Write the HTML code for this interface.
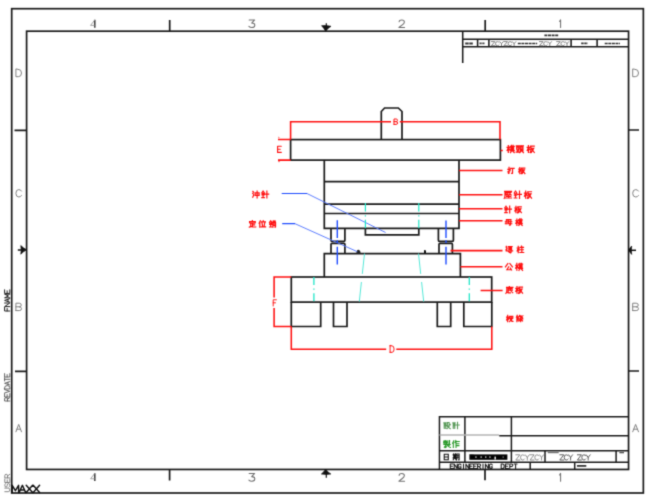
<!DOCTYPE html>
<html><head><meta charset="utf-8"><style>
html,body{margin:0;padding:0;background:#fff;width:653px;height:499px;overflow:hidden}
svg{display:block;font-family:"Liberation Sans",sans-serif}
</style></head><body>
<svg width="653" height="499" viewBox="0 0 653 499">
<defs><filter id="bl" x="0" y="0" width="653" height="499" filterUnits="userSpaceOnUse" color-interpolation-filters="sRGB"><feConvolveMatrix order="3" kernelMatrix="0.0225 0.105 0.0225 0.105 0.49 0.105 0.0225 0.105 0.0225" edgeMode="duplicate"/></filter><symbol id="g0" viewBox="0 0 8 8" overflow="visible"><path d="M0.3,2.3H2.9 M1.6,0.3V7.7 M1.6,2.6L0.3,5.6 M1.6,2.6L2.9,4.6 M3.6,1.2H7.8 M4.9,0.2V2 M6.6,0.2V2 M4.3,2.6H7.2V4.8H4.3Z M4.3,3.7H7.2 M3.6,5.7H7.8 M5.7,4.8L3.9,7.8 M5.7,5.7L7.8,7.8"/></symbol>
<symbol id="g1" viewBox="0 0 8 8" overflow="visible"><path d="M0.3,0.8H3.2 M0.7,2H3V4H0.7Z M1.1,5L1.5,6.4 M2.6,5L2.2,6.4 M0.2,7.3H3.3 M3.9,0.6H7.8 M5.8,0.6L5.4,1.7 M4.4,1.8H7.3V6H4.4Z M4.4,3.2H7.3 M4.4,4.6H7.3 M5.1,6.4L4,7.8 M6.6,6.4L7.8,7.8"/></symbol>
<symbol id="g2" viewBox="0 0 8 8" overflow="visible"><path d="M0.3,2.3H2.9 M1.6,0.3V7.7 M1.6,2.6L0.3,5.6 M1.6,2.6L2.9,4.6 M3.8,0.9H7.7 M4.2,0.9V4.2Q4.2,6.4 3.4,7.8 M4.8,3.2H7.2L4.6,7.6 M5.2,4.2L7.8,7.7"/></symbol>
<symbol id="g3" viewBox="0 0 8 8" overflow="visible"><path d="M0.2,2.6H3 M1.6,0.2V7.1Q1.6,7.8 0.9,7.5 M0.2,5.6L3,4.3 M3.6,1.3H7.8 M5.9,1.3V7.2Q5.9,7.9 4.9,7.5"/></symbol>
<symbol id="g4" viewBox="0 0 8 8" overflow="visible"><path d="M0.6,0.6H7.8 M0.9,0.6V5Q0.9,7 0.1,7.8 M1.9,1.6H4V3.3H1.9Z M2.2,4.1H4 M5,1.6H7.3 M6.1,1V3.5L5,4.5 M6.1,3L7.4,4.3 M2.6,5.7H7 M4.8,4.8V7.5 M1.6,7.5H7.8"/></symbol>
<symbol id="g5" viewBox="0 0 8 8" overflow="visible"><path d="M1.6,0.3L0.2,2.2 M1.6,0.3L3,2.2 M0.6,3H2.6 M0.4,4.4H2.8 M1.6,3V7.2 M0.2,7.5H3 M3.7,3.6H7.8 M5.8,0.2V7.8"/></symbol>
<symbol id="g6" viewBox="0 0 8 8" overflow="visible"><path d="M1.5,0.9H6.8L6.3,7Q6.2,7.8 5.2,7.4 M1.5,0.9L0.9,5.8 M0.2,3.5H7.8 M0.2,5.8H7.8 M3.3,1.8L4.5,2.8 M3.3,4.3L4.5,5.2"/></symbol>
<symbol id="g7" viewBox="0 0 8 8" overflow="visible"><path d="M0.5,0.4L1.3,1.3 M0.4,2L1.2,2.8 M0.2,4.4Q1.5,4.2 1.3,3 M3,0.6H7.2 M3.5,1.4H6.6V4H3.5Z M3.5,2.3H6.6 M3.5,3.2H6.6 M0.5,5.5H7.8 M6,4.6V7.5Q6,8 5,7.6 M3,6.3L3.8,7"/></symbol>
<symbol id="g8" viewBox="0 0 8 8" overflow="visible"><path d="M0.3,2.3H2.9 M1.6,0.3V7.7 M1.6,2.6L0.3,5.6 M1.6,2.6L2.9,4.6 M5.3,0.2L5.9,1.1 M3.8,1.6H7.6 M5.7,1.6V7.3 M4.1,4.3H7.4 M3.5,7.4H7.8"/></symbol>
<symbol id="g9" viewBox="0 0 8 8" overflow="visible"><path d="M2.8,0.5L0.2,4 M5,0.5L7.8,4 M3.8,4L1.8,7.2H6.6 M5.5,5.5L6.8,7.5"/></symbol>
<symbol id="g10" viewBox="0 0 8 8" overflow="visible"><path d="M3.9,0.2V1 M0.8,1.1H7.8 M1.1,1.1V5Q1.1,7 0.1,7.8 M2.6,2.5H7 M2.6,2.5V6.2L2.1,6.7 M2.6,4.2H7.2 M4.8,2.5Q5.2,6 7.6,7.1 M2.6,7.3H5"/></symbol>
<symbol id="g11" viewBox="0 0 8 8" overflow="visible"><path d="M0.3,2.3H2.9 M1.6,0.3V7.7 M1.6,2.6L0.3,5.6 M1.6,2.6L2.9,4.6 M4,1.5V2.8 M4,1.5H7.7V2.8 M5.8,1.5V3 M4,3.8H7.5 M5.3,3.8Q5.3,6.5 3.8,7.7 M6.3,3.8V7Q6.3,7.6 7.8,7.4"/></symbol>
<symbol id="g12" viewBox="0 0 8 8" overflow="visible"><path d="M1.2,0.2L0.2,2.5 M0.8,1.5V7.8 M2.2,2V6 M4.2,0.2L3.2,2 M3.8,1H7.3L5.5,2.5 M4.3,1.5L7.5,3 M3,4.5H7.8 M5.3,3.2V7.8 M5.3,4.5L3.2,7 M5.3,4.5L7.5,6.8"/></symbol>
<symbol id="g13" viewBox="0 0 8 8" overflow="visible"><path d="M0.5,0.6L1.3,1.5 M0.3,2.8L1.1,3.6 M0.3,7L1.3,4.8 M3,2.2H7.4V5H3Z M5.2,0.2V7.8"/></symbol>
<symbol id="g14" viewBox="0 0 8 8" overflow="visible"><path d="M3.9,0V0.9 M0.6,2.4V1.1H7.3V2.4 M1.5,3H6.6 M4,3V7.2 M4.3,5H6.5 M2,4.5V6.5Q1.5,7.5 0.3,7.7 M2,6.8Q4,7.6 7.8,7.5"/></symbol>
<symbol id="g15" viewBox="0 0 8 8" overflow="visible"><path d="M1.6,0.3L0.2,3.2 M1,2V7.8 M5,0.2L5.5,1.2 M2.8,1.6H7.6 M3.6,2.8L4.2,6 M6.8,2.8L6.2,6 M2.6,7.3H7.8"/></symbol>
<symbol id="g16" viewBox="0 0 8 8" overflow="visible"><path d="M1.6,0.3L0.2,2.2 M1.6,0.3L3,2.2 M0.6,3H2.6 M0.4,4.4H2.8 M1.6,3V7.2 M0.2,7.5H3 M5.6,0.2V1.8 M4.3,0.6L4.8,1.5 M7,0.6L6.5,1.5 M4.2,2.3H7.3V7.5Q7.3,7.9 6.5,7.6 M4.2,2.3V7.8 M4.2,4H7.3 M4.2,5.6H7.3"/></symbol>
<symbol id="g17" viewBox="0 0 8 8" overflow="visible"><path d="M0.3,1H3 M0.7,2.3H2.6 M0.7,3.5H2.6 M0.7,4.8H2.6V7.4H0.7Z M4.5,0.5V2.5Q4.5,3.5 3.6,3.8 M4.5,0.5H6.5V2.8H7.8 M3.8,4.5H7L4,7.8 M4.5,5.5L7.8,7.8"/></symbol>
<symbol id="g18" viewBox="0 0 8 8" overflow="visible"><path d="M0.3,1H3 M0.7,2.3H2.6 M0.7,3.5H2.6 M0.7,4.8H2.6V7.4H0.7Z M3.7,3.6H7.8 M5.8,0.2V7.8"/></symbol>
<symbol id="g19" viewBox="0 0 8 8" overflow="visible"><path d="M0.5,0.8H3.5 M2,0.2V3.8 M0.2,2H3.8 M0.6,2.8V3.5 M3.4,2.8V3.5 M5,0.5V2.8 M6.8,0.2V3.5Q6.8,4 6.2,3.8 M3.8,3.8V4.5 M0.5,4.6H7.5 M3.5,4.6L1,7.5 M2.2,6.3V7.8L3.5,7 M4.5,5.3Q5.5,7 7.8,7.8 M6.8,5.2L5.5,6.2"/></symbol>
<symbol id="g20" viewBox="0 0 8 8" overflow="visible"><path d="M1.6,0.3L0.2,3.2 M1,2V7.8 M3.8,0.2L2.8,2.5 M3.5,1.3H7.6 M4,1.3V7.8 M4,3.8H7.2 M4,5.8H7.2"/></symbol>
<symbol id="g21" viewBox="0 0 8 8" overflow="visible"><path d="M1.5,0.8H6.5V7.5H1.5Z M1.5,4.1H6.5"/></symbol>
<symbol id="g22" viewBox="0 0 8 8" overflow="visible"><path d="M0.2,1.5H4 M1,0.2V5.2 M3.2,0.2V5.2 M1,2.7H3.2 M1,3.9H3.2 M0.2,5.2H4 M1.3,6L0.3,7.5 M2.9,6L3.9,7.5 M4.8,0.5H7.5V7.5Q7.5,7.9 6.8,7.6 M4.8,0.5V5Q4.8,7 4.2,7.8 M4.8,2.8H7.5 M4.8,5H7.5"/></symbol></defs>
<g filter="url(#bl)">
<rect width="653" height="499" fill="#fff"/>
<g stroke="#1a1a1a" stroke-width="1.7" fill="none">
<rect x="11.7" y="8.7" width="631.65" height="484.3"/>
<rect x="26.6" y="31.2" width="601.95" height="438.25"/>
<path d="M169.7,20V31 M485.2,20V31 M169.6,469.4V480.6 M485,469.4V480.2 M14.5,130.4H26.5 M15,371.3H26.5 M628.4,130H639 M628.4,371H639"/>
</g>
<g fill="#111" stroke="#111" stroke-width="1.2">
<path d="M321.6,25.7Q323.8,28 325.7,31.2Q327.8,28 331,26.3Q326.5,25.2 321.6,25.7Z" stroke-width="0.7"/><path d="M326.3,23.2V27" fill="none"/>
<path d="M321.4,474Q323.8,472 325.7,469.2Q327.6,472.2 330.8,474Q326.5,474.9 321.4,474Z" stroke-width="0.7"/><path d="M326.3,473V477.8" fill="none"/>
<path d="M20.8,245.6Q23.2,248 26.6,249.8Q23.2,251.6 20.8,254.2Q21.6,250 20.8,245.6Z" stroke-width="0.7"/><path d="M17.8,250H22" fill="none" stroke-width="1.5"/>
<path d="M631.7,246Q629.8,248.4 628.2,250Q629.8,252 631.7,254.4Q631,250.2 631.7,246Z" stroke-width="0.7"/><path d="M630.5,250.3H636" fill="none" stroke-width="1.5"/>
</g>
<path d="M94.8,19.8V27.700000000000003" stroke="#3a3a3a" stroke-width="1.5" fill="none"/>
<path d="M94.6,20.1L90.6,25.4H94.6" stroke="#9a9a9a" stroke-width="0.9" fill="none"/>
<path d="M94.8,473.2V481.09999999999997" stroke="#3a3a3a" stroke-width="1.5" fill="none"/>
<path d="M94.6,473.5L90.6,478.8H94.6" stroke="#9a9a9a" stroke-width="0.9" fill="none"/>
<path d="M249.14,19.90H254.66L251.66,23.03Q254.90,23.03 254.90,25.22Q254.90,27.50 251.90,27.50Q249.98,27.50 248.90,26.36" stroke="#707070" stroke-width="1.05" fill="none" stroke-linecap="round" stroke-linejoin="round" />
<path d="M249.14,473.40H254.66L251.66,476.62Q254.90,476.62 254.90,478.86Q254.90,481.20 251.90,481.20Q249.98,481.20 248.90,480.03" stroke="#707070" stroke-width="1.05" fill="none" stroke-linecap="round" stroke-linejoin="round" />
<path d="M399.13,21.80Q399.36,19.90 401.75,19.90Q404.37,19.90 404.37,21.89Q404.37,23.32 402.32,24.84L398.90,27.50H404.60" stroke="#707070" stroke-width="1.05" fill="none" stroke-linecap="round" stroke-linejoin="round" />
<path d="M399.13,475.35Q399.36,473.40 401.75,473.40Q404.37,473.40 404.37,475.45Q404.37,476.91 402.32,478.47L398.90,481.20H404.60" stroke="#707070" stroke-width="1.05" fill="none" stroke-linecap="round" stroke-linejoin="round" />
<path d="M559.57,21.42L560.59,19.90V27.50" stroke="#707070" stroke-width="1.05" fill="none" stroke-linecap="round" stroke-linejoin="round" />
<path d="M559.57,474.96L560.59,473.40V481.20" stroke="#707070" stroke-width="1.05" fill="none" stroke-linecap="round" stroke-linejoin="round" />
<path d="M15.90,69.30V76.70H18.36Q21.50,76.70 21.50,73.00Q21.50,69.30 18.36,69.30Z" stroke="#808080" stroke-width="1.0" fill="none" stroke-linecap="round" stroke-linejoin="round" />
<path d="M632.70,69.30V76.70H635.25Q638.50,76.70 638.50,73.00Q638.50,69.30 635.25,69.30Z" stroke="#808080" stroke-width="1.0" fill="none" stroke-linecap="round" stroke-linejoin="round" />
<path d="M21.50,191.08Q20.60,189.60 18.81,189.60Q15.90,189.60 15.90,193.30Q15.90,197.00 18.81,197.00Q20.60,197.00 21.50,195.52" stroke="#808080" stroke-width="1.0" fill="none" stroke-linecap="round" stroke-linejoin="round" />
<path d="M638.50,191.08Q637.57,189.60 635.72,189.60Q632.70,189.60 632.70,193.30Q632.70,197.00 635.72,197.00Q637.57,197.00 638.50,195.52" stroke="#808080" stroke-width="1.0" fill="none" stroke-linecap="round" stroke-linejoin="round" />
<path d="M15.90,310.60V303.20H19.26Q21.28,303.20 21.28,305.05Q21.28,306.81 19.26,306.81H15.90M19.26,306.81Q21.50,306.81 21.50,308.66Q21.50,310.60 19.26,310.60H15.90" stroke="#808080" stroke-width="1.0" fill="none" stroke-linecap="round" stroke-linejoin="round" />
<path d="M632.70,310.60V303.20H636.18Q638.27,303.20 638.27,305.05Q638.27,306.81 636.18,306.81H632.70M636.18,306.81Q638.50,306.81 638.50,308.66Q638.50,310.60 636.18,310.60H632.70" stroke="#808080" stroke-width="1.0" fill="none" stroke-linecap="round" stroke-linejoin="round" />
<path d="M15.90,431.80L18.70,424.40L21.50,431.80M16.91,429.21H20.49" stroke="#808080" stroke-width="1.0" fill="none" stroke-linecap="round" stroke-linejoin="round" />
<path d="M632.70,431.80L635.60,424.40L638.50,431.80M633.74,429.21H637.46" stroke="#808080" stroke-width="1.0" fill="none" stroke-linecap="round" stroke-linejoin="round" />
<g transform="translate(4.6,311) rotate(-90)">
<path d="M3.60,0.00H0.00V5.20M0.00,2.54H2.59 M4.40,5.20V0.00L8.00,5.20V0.00 M8.80,5.20L10.60,0.00L12.40,5.20M9.45,3.38H11.75 M13.20,5.20V0.00L15.00,3.90L16.80,0.00V5.20 M21.20,0.00H17.60V5.20H21.20M17.60,2.54H20.19" stroke="#222" stroke-width="1.0" fill="none" stroke-linecap="round" stroke-linejoin="round" />
</g>
<g transform="translate(4.6,401) rotate(-90)">
<path d="M0.00,5.20V0.00H2.04Q3.40,0.00 3.40,1.43Q3.40,2.86 2.04,2.86H0.00M1.77,2.86L3.40,5.20 M7.40,0.00H4.00V5.20H7.40M4.00,2.54H6.45 M8.00,0.00L9.70,5.20L11.40,0.00 M12.00,0.00V5.20H13.50Q15.40,5.20 15.40,2.60Q15.40,0.00 13.50,0.00Z M16.00,5.20L17.70,0.00L19.40,5.20M16.61,3.38H18.79 M20.00,0.00H23.40M21.70,0.00V5.20 M27.40,0.00H24.00V5.20H27.40M24.00,2.54H26.45" stroke="#555" stroke-width="0.9" fill="none" stroke-linecap="round" stroke-linejoin="round" />
</g>
<g transform="translate(4.8,491.7) rotate(-90)">
<path d="M0.00,0.00V3.44Q0.00,5.00 1.80,5.00Q3.60,5.00 3.60,3.44V0.00 M8.20,0.75Q7.62,0.00 6.40,0.00Q4.60,0.00 4.60,1.25Q4.60,2.44 6.40,2.44Q8.20,2.44 8.20,3.75Q8.20,5.00 6.40,5.00Q5.18,5.00 4.60,4.25 M12.80,0.00H9.20V5.00H12.80M9.20,2.44H11.79 M13.80,5.00V0.00H15.96Q17.40,0.00 17.40,1.38Q17.40,2.75 15.96,2.75H13.80M15.67,2.75L17.40,5.00" stroke="#777" stroke-width="0.9" fill="none" stroke-linecap="round" stroke-linejoin="round" />
</g>
<path d="M12.20,492.40V485.30L15.40,490.62L18.60,485.30V492.40 M19.20,492.40L22.40,485.30L25.60,492.40M20.35,489.92H24.45 M26.20,485.30L32.60,492.40M32.60,485.30L26.20,492.40 M33.20,485.30L39.60,492.40M39.60,485.30L33.20,492.40" stroke="#111" stroke-width="1.45" fill="none" stroke-linecap="round" stroke-linejoin="round" />
<g stroke="#1a1a1a" stroke-width="1.55" fill="none">
<path d="M462.7,63V31.2 M462.7,39.3H628.55 M462.7,46.8H628.55 M477.6,39.3V46.8 M488.9,39.3V46.8 M571.1,39.3V46.8 M597.1,39.3V46.8"/>
</g>
<path d="M544.4,35.3H558.5" stroke="#333" stroke-width="1.7" stroke-dasharray="3,0.6" fill="none"/>
<path d="M465.2,43.5H472.9" stroke="#333" stroke-width="1.8" stroke-dasharray="3.5,0.6" fill="none"/>
<path d="M479.5,43.4H484.5" stroke="#444" stroke-width="1.7" stroke-dasharray="2.2,0.6" fill="none"/>
<path d="M517.8,43.5H537.2" stroke="#333" stroke-width="1.7" stroke-dasharray="3,0.6" fill="none"/>
<path d="M581.2,43.4H587.8" stroke="#333" stroke-width="1.7" stroke-dasharray="2.5,0.6" fill="none"/>
<path d="M604.7,43.5H620" stroke="#333" stroke-width="1.7" stroke-dasharray="3,0.6" fill="none"/>
<path d="M491.30,41.60H494.90L491.30,45.70H494.90 M499.10,42.42Q498.52,41.60 497.37,41.60Q495.50,41.60 495.50,43.65Q495.50,45.70 497.37,45.70Q498.52,45.70 499.10,44.88 M499.70,41.60L501.50,43.65L503.30,41.60M501.50,43.65V45.70 M503.90,41.60H507.50L503.90,45.70H507.50 M511.70,42.42Q511.12,41.60 509.97,41.60Q508.10,41.60 508.10,43.65Q508.10,45.70 509.97,45.70Q511.12,45.70 511.70,44.88 M512.30,41.60L514.10,43.65L515.90,41.60M514.10,43.65V45.70" stroke="#777" stroke-width="0.9" fill="none" stroke-linecap="round" stroke-linejoin="round" />
<path d="M539.40,41.60H543.00L539.40,45.70H543.00 M547.30,42.42Q546.72,41.60 545.57,41.60Q543.70,41.60 543.70,43.65Q543.70,45.70 545.57,45.70Q546.72,45.70 547.30,44.88 M548.00,41.60L549.80,43.65L551.60,41.60M549.80,43.65V45.70 M556.60,41.60H560.20L556.60,45.70H560.20 M564.50,42.42Q563.92,41.60 562.77,41.60Q560.90,41.60 560.90,43.65Q560.90,45.70 562.77,45.70Q563.92,45.70 564.50,44.88 M565.20,41.60L567.00,43.65L568.80,41.60M567.00,43.65V45.70" stroke="#777" stroke-width="0.9" fill="none" stroke-linecap="round" stroke-linejoin="round" />
<g stroke="#1a1a1a" stroke-width="1.5" fill="none">
<path d="M439.45,469.45V416.8 H628.55 M499.2,435.7H628.55 M439.45,450.7H628.55 M439.45,462.15H628.55 M464.9,416.8V462.15 M511.4,416.8V462.15 M545,450.7V462.15 M616.1,450.7V462.15 M530.2,462.15V469.45 M574.7,462.15V469.45"/>
</g>
<path d="M439.45,435H499.2" stroke="#b4b4b4" stroke-width="1.7"/>
<g stroke="#5a9a5a" stroke-width="1.27" fill="none" stroke-linecap="square"><use href="#g17" x="443.00" y="422.00" width="8.00" height="6.80"/><use href="#g18" x="452.00" y="422.00" width="8.00" height="6.80"/></g>
<g stroke="#2a9a2a" stroke-width="1.20" fill="none" stroke-linecap="square"><use href="#g19" x="443.00" y="440.40" width="8.00" height="7.20"/><use href="#g20" x="452.00" y="440.40" width="8.00" height="7.20"/></g>
<g stroke="#111" stroke-width="1.31" fill="none" stroke-linecap="square"><use href="#g21" x="443.00" y="453.60" width="6.50" height="6.60"/><use href="#g22" x="452.50" y="453.60" width="7.50" height="6.60"/></g>
<rect x="469.4" y="454.4" width="38.00" height="5.40" fill="#000"/>
<rect x="475.3" y="456.3" width="1.3" height="1.6" fill="#bbb"/>
<rect x="480.5" y="456.3" width="1.3" height="1.6" fill="#bbb"/>
<rect x="485.1" y="456.3" width="1.3" height="1.6" fill="#bbb"/>
<rect x="489.3" y="456.3" width="1.3" height="1.6" fill="#bbb"/>
<rect x="494.4" y="456.6" width="1.6" height="2.9" fill="#ddd"/>
<rect x="502.6" y="456.4" width="1.1" height="1.4" fill="#999"/>
<rect x="469.6" y="454.4" width="4" height="0.6" fill="#333"/>
<path d="M515.80,454.80H519.80L515.80,460.00H519.80 M524.55,455.84Q523.91,454.80 522.63,454.80Q520.55,454.80 520.55,457.40Q520.55,460.00 522.63,460.00Q523.91,460.00 524.55,458.96 M525.30,454.80L527.30,457.40L529.30,454.80M527.30,457.40V460.00 M530.05,454.80H534.05L530.05,460.00H534.05 M538.80,455.84Q538.16,454.80 536.88,454.80Q534.80,454.80 534.80,457.40Q534.80,460.00 536.88,460.00Q538.16,460.00 538.80,458.96 M539.55,454.80L541.55,457.40L543.55,454.80M541.55,457.40V460.00" stroke="#888" stroke-width="0.95" fill="none" stroke-linecap="round" stroke-linejoin="round" />
<path d="M559.80,454.80H563.80L559.80,460.00H563.80 M568.20,455.84Q567.56,454.80 566.28,454.80Q564.20,454.80 564.20,457.40Q564.20,460.00 566.28,460.00Q567.56,460.00 568.20,458.96 M568.60,454.80L570.60,457.40L572.60,454.80M570.60,457.40V460.00 M577.40,454.80H581.40L577.40,460.00H581.40 M585.80,455.84Q585.16,454.80 583.88,454.80Q581.80,454.80 581.80,457.40Q581.80,460.00 583.88,460.00Q585.16,460.00 585.80,458.96 M586.20,454.80L588.20,457.40L590.20,454.80M588.20,457.40V460.00" stroke="#555" stroke-width="0.95" fill="none" stroke-linecap="round" stroke-linejoin="round" />
<rect x="547.7" y="452.1" width="11.00" height="1.10" fill="#666"/>
<rect x="619.4" y="452.0" width="4.60" height="1.30" fill="#555"/>
<rect x="577" y="465.0" width="9.30" height="1.80" fill="#333"/>
<path d="M453.30,464.00H450.30V468.60H453.30M450.30,466.24H452.46 M454.20,468.60V464.00L457.20,468.60V464.00 M461.10,464.92Q460.62,464.00 459.66,464.00Q458.10,464.00 458.10,466.30Q458.10,468.60 459.66,468.60Q461.10,468.60 461.10,466.88H459.78 M463.50,464.00V468.60 M465.90,468.60V464.00L468.90,468.60V464.00 M472.80,464.00H469.80V468.60H472.80M469.80,466.24H471.96 M476.70,464.00H473.70V468.60H476.70M473.70,466.24H475.86 M477.60,468.60V464.00H479.40Q480.60,464.00 480.60,465.26Q480.60,466.53 479.40,466.53H477.60M479.16,466.53L480.60,468.60 M483.00,464.00V468.60 M485.40,468.60V464.00L488.40,468.60V464.00 M492.30,464.92Q491.82,464.00 490.86,464.00Q489.30,464.00 489.30,466.30Q489.30,468.60 490.86,468.60Q492.30,468.60 492.30,466.88H490.98" stroke="#222" stroke-width="1.1" fill="none" stroke-linecap="round" stroke-linejoin="round" />
<path d="M501.20,464.00V468.60H502.52Q504.20,468.60 504.20,466.30Q504.20,464.00 502.52,464.00Z M508.50,464.00H505.50V468.60H508.50M505.50,466.24H507.66 M509.80,468.60V464.00H511.60Q512.80,464.00 512.80,465.26Q512.80,466.53 511.60,466.53H509.80 M514.10,464.00H517.10M515.60,464.00V468.60" stroke="#222" stroke-width="1.1" fill="none" stroke-linecap="round" stroke-linejoin="round" />
<g stroke="#1a1a1a" stroke-width="1.7" fill="none">
<path d="M381.3,139.6V111.5L384.6,108H398.3L402,111.5V139.6"/>
<rect x="290.6" y="139.6" width="209.8" height="20.5"/>
<path d="M324.3,160.1V228.4H459V160.1"/>
<path d="M324.3,181.6H459 M324.3,204.2H459 M324.3,213.5H459"/>
<path d="M365.4,228.4V234.9H418.8V228.4"/>
<path d="M331,228.4V240.3Q331,241.3 332,241.3H343.9Q344.9,241.3 344.9,240.3V228.4"/>
<path d="M438.4,228.4V240.3Q438.4,241.3 439.4,241.3H452.4Q453.4,241.3 453.4,240.3V228.4"/>
<path d="M331,253.6V244.3Q331,243.3 332,243.3H343.9Q344.9,243.3 344.9,244.3V253.6"/>
<path d="M439,253.6V244.3Q439,243.3 440,243.3H451.4Q452.4,243.3 452.4,244.3V253.6"/>
<path d="M324.3,277V253.6H460.4V277"/>
<rect x="291.3" y="277" width="200.4" height="25.1"/>
<path d="M291.3,302.1V326.5H320.7V302.1 M333.5,302.1V326.5H347V302.1 M437.3,302.1V326.5H450.7V302.1 M463.8,302.1V326.5H491.8V302.1"/>
</g>
<path d="M356.3,253.5Q356.6,249.5 358.5,249.7Q360.6,250.1 360.6,253.5Z" fill="#222"/>
<path d="M424,253.4V250.3Q425.2,249.5 426,250.7V253.4Z" fill="#111"/>
<g stroke="#ff1010" stroke-width="1.55" fill="none">
<path d="M290.6,139.6V121.8H391 M399.8,121.8H500V139.6"/>
<path d="M278,139.4H290.6 M278,160.1H290.6"/>
<path d="M291.3,277H274.1V297.4 M274.1,307.9V326.5H291.3 M291.3,326.5V349.2H386.2 M396.3,349.2H491.8V326.5"/>
<path d="M500.6,150.4H502.8 M459,170.5H502.5 M459,194.7H502.5 M459,208.7H502.5 M459,220.7H502.5 M450.5,250.6H502.5 M460.4,266.8H502.5 M480.6,290.4H502.6"/>
</g>
<g fill="#ff1010"><path d="M278.3,136.6L279.5,137.6L278.8,138.6Z"/><path d="M278,160.3L280,160.4L279,162.4Z"/></g>
<path d="M394.00,124.40V119.00H396.16Q397.46,119.00 397.46,120.35Q397.46,121.63 396.16,121.63H394.00M396.16,121.63Q397.60,121.63 397.60,122.98Q397.60,124.40 396.16,124.40H394.00" stroke="#ff1010" stroke-width="1.0" fill="none" stroke-linecap="round" stroke-linejoin="round" />
<path d="M281.30,146.30H277.60V152.40H281.30M277.60,149.27H280.26" stroke="#ff1010" stroke-width="1.1" fill="none" stroke-linecap="round" stroke-linejoin="round" />
<path d="M276.40,299.80H273.20V306.00M273.20,302.82H275.50" stroke="#ff1010" stroke-width="0.95" fill="none" stroke-linecap="round" stroke-linejoin="round" />
<path d="M390.10,345.70V352.40H391.86Q394.10,352.40 394.10,349.05Q394.10,345.70 391.86,345.70Z" stroke="#ff1010" stroke-width="0.95" fill="none" stroke-linecap="round" stroke-linejoin="round" />
<path d="M389.4,345.8H391.5 M389.4,352.3H391.5" stroke="#ff1a1a" stroke-width="0.9"/>
<g stroke="#ff1010" stroke-width="1.26" fill="none" stroke-linecap="square"><use href="#g0" x="506.40" y="145.20" width="8.40" height="7.60"/><use href="#g1" x="515.60" y="145.20" width="8.40" height="7.60"/><use href="#g2" x="526.90" y="145.20" width="7.60" height="7.60"/></g>
<g stroke="#ff1010" stroke-width="1.48" fill="none" stroke-linecap="square"><use href="#g3" x="507.20" y="167.30" width="7.60" height="6.50"/><use href="#g2" x="518.00" y="167.30" width="7.60" height="6.50"/></g>
<g stroke="#ff1010" stroke-width="1.26" fill="none" stroke-linecap="square"><use href="#g4" x="503.60" y="190.90" width="8.60" height="7.60"/><use href="#g5" x="514.00" y="190.90" width="7.60" height="7.60"/><use href="#g2" x="523.90" y="190.90" width="8.10" height="7.60"/></g>
<g stroke="#ff1010" stroke-width="1.37" fill="none" stroke-linecap="square"><use href="#g5" x="504.00" y="206.00" width="8.20" height="7.00"/><use href="#g2" x="514.00" y="206.00" width="8.10" height="7.00"/></g>
<g stroke="#ff1010" stroke-width="1.41" fill="none" stroke-linecap="square"><use href="#g6" x="504.50" y="218.80" width="8.10" height="6.80"/><use href="#g0" x="514.90" y="218.80" width="8.10" height="6.80"/></g>
<g stroke="#ff1010" stroke-width="1.37" fill="none" stroke-linecap="square"><use href="#g7" x="505.30" y="246.00" width="8.00" height="7.00"/><use href="#g8" x="516.50" y="246.00" width="7.70" height="7.00"/></g>
<g stroke="#ff1010" stroke-width="1.30" fill="none" stroke-linecap="square"><use href="#g9" x="504.90" y="263.10" width="8.10" height="7.40"/><use href="#g0" x="515.00" y="263.10" width="8.10" height="7.40"/></g>
<g stroke="#ff1010" stroke-width="1.33" fill="none" stroke-linecap="square"><use href="#g10" x="505.40" y="286.30" width="8.10" height="7.20"/><use href="#g2" x="515.30" y="286.30" width="7.70" height="7.20"/></g>
<g stroke="#ff1010" stroke-width="1.43" fill="none" stroke-linecap="square"><use href="#g11" x="505.90" y="315.20" width="7.60" height="6.70"/><use href="#g12" x="515.80" y="315.20" width="7.60" height="6.70"/></g>
<g stroke="#ff1010" stroke-width="1.33" fill="none" stroke-linecap="square"><use href="#g13" x="252.20" y="190.90" width="7.70" height="7.20"/><use href="#g5" x="261.20" y="190.90" width="8.10" height="7.20"/></g>
<g stroke="#ff1010" stroke-width="1.41" fill="none" stroke-linecap="square"><use href="#g14" x="248.60" y="220.60" width="7.70" height="6.80"/><use href="#g15" x="258.50" y="220.60" width="7.70" height="6.80"/><use href="#g16" x="268.90" y="220.60" width="7.70" height="6.80"/></g>
<g stroke="#1f4cff" stroke-width="1.2" fill="none">
<path d="M281.7,193.5H307 M282.2,223.7H295"/>
<path d="M307,193.5L385.6,232.5 M295,223.7L357.3,251.7" stroke="#5577ff" stroke-width="0.95"/>
<path d="M337.3,220.2V238 M337.3,240.3V243 M337.3,246.8V264.4 M446,220.5V238 M446,240.3V243 M446,246.8V264.5" stroke-width="1.4"/>
</g>
<g stroke="#22e6c8" stroke-width="1.2" fill="none">
<path d="M365.4,203V211.6 M365.4,215.3V216.6 M365.4,219.7V228.3 M418.8,203V211.6 M418.8,215.3V216.6 M418.8,219.7V228.3"/>
<path d="M364.5,253.6L359.3,301.6 M418.5,253.6L423.7,301.6" stroke-dasharray="20.4,8.2" stroke-width="1" stroke="#55e8d8"/>
<path d="M313.9,276.9V301.8 M469.3,276.9V301.8" stroke-dasharray="8,3.6,1.2,3.6" stroke-width="1.3"/>
</g>
</g>
</svg></body></html>
